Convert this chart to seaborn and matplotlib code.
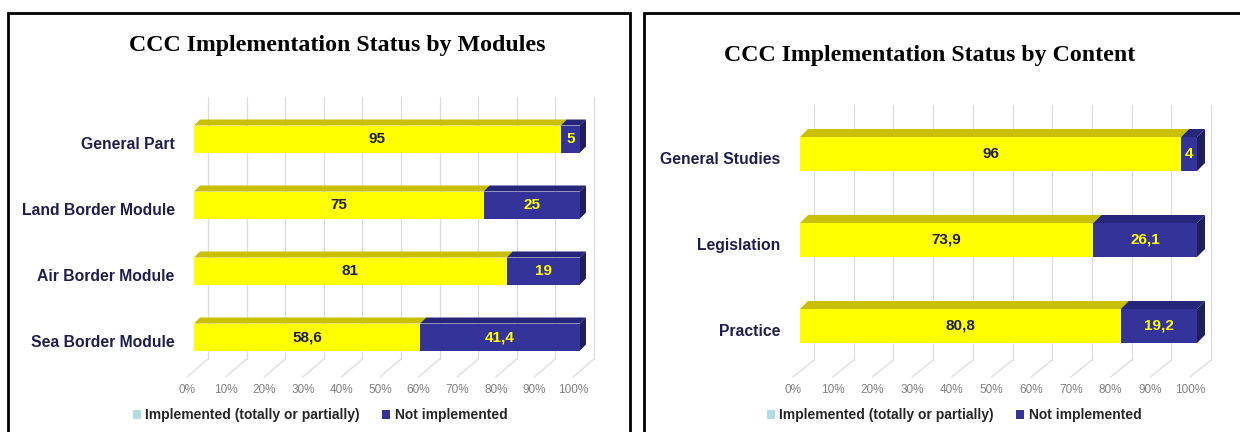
import matplotlib
matplotlib.use("Agg")
import matplotlib.pyplot as plt
import seaborn as sns
import pandas as pd
from matplotlib.patches import Polygon, Rectangle
from matplotlib.transforms import ScaledTranslation
from matplotlib import font_manager

# ---------------- data ----------------
module_names = ["General Part", "Land Border Module", "Air Border Module", "Sea Border Module"]
module_implemented = [95, 75, 81, 58.6]
module_not_implemented = [5, 25, 19, 41.4]
module_impl_labels = ["95", "75", "81", "58,6"]
module_not_labels = ["5", "25", "19", "41,4"]

content_names = ["General Studies", "Legislation", "Practice"]
content_implemented = [96, 73.9, 80.8]
content_not_implemented = [4, 26.1, 19.2]
content_impl_labels = ["96", "73,9", "80,8"]
content_not_labels = ["4", "26,1", "19,2"]

tick_values = [0, 10, 20, 30, 40, 50, 60, 70, 80, 90, 100]
tick_labels = ["0%", "10%", "20%", "30%", "40%", "50%", "60%", "70%", "80%", "90%", "100%"]
titles = ["CCC Implementation Status by Modules", "CCC Implementation Status by Content"]
legend_labels = ["Implemented (totally or partially)", "Not implemented"]

# ---------------- style ----------------
sns.set_style("white")
avail = {f.name for f in font_manager.fontManager.ttflist}
narrow = "Liberation Sans Narrow" if "Liberation Sans Narrow" in avail else "Liberation Sans"
plt.rcParams["font.family"] = [narrow, "DejaVu Sans"]

YELLOW = "#ffff00"
YELLOW_TOP = "#c8c000"
NAVY = "#333399"
NAVY_TOP = "#26267a"
NAVY_SIDE = "#1f1f5e"
LEGEND_IMPL = "#b0dde3"
LABEL_NAVY = "#1f1f4f"
GRID = "#dcdcdc"

W, H = 1240, 432
fig = plt.figure(figsize=(W / 100, H / 100), dpi=100)


def box(x0, y0, x1, y1):
    return [x0 / W, 1 - y1 / H, (x1 - x0) / W, (y1 - y0) / H]


def draw_panel(ax, names, impl, notimpl, impl_lab, not_lab, px_w, px_top, px_back_bottom,
               centers_px, bar_px, depth):
    n = len(names)
    cat_px = centers_px[1] - centers_px[0]
    top = -(centers_px[0] - px_top) / cat_px
    bottom = (377 - centers_px[0]) / cat_px
    total = [a + b for a, b in zip(impl, notimpl)]
    df = pd.DataFrame({"cat": names, "impl": impl, "total": total})
    width = bar_px / cat_px
    sns.barplot(data=df, x="total", y="cat", orient="h", color=NAVY, saturation=1,
                width=width, linewidth=0, ax=ax, zorder=3)
    sns.barplot(data=df, x="impl", y="cat", orient="h", color=YELLOW, saturation=1,
                width=width, linewidth=0, ax=ax, zorder=4)
    ax.set_xlim(0, 100)
    ax.set_ylim(bottom, top)
    pxx = px_w / 100.0
    dx = depth / pxx
    dy = depth / cat_px
    back_off = 14 / pxx
    front_off = 7 / pxx
    yb_back = (px_back_bottom - centers_px[0]) / cat_px
    for t in tick_values:
        ax.plot([t + back_off, t + back_off], [top, yb_back], color=GRID, lw=0.9,
                zorder=1, clip_on=False)
        ax.plot([t + back_off, t - front_off], [yb_back, bottom], color=GRID, lw=0.9,
                zorder=1, clip_on=False)
    for i in range(n):
        yt = i - width / 2
        yb = i + width / 2
        a, b = impl[i], total[i]
        ax.add_patch(Polygon([(0, yt), (a, yt), (a + dx, yt - dy), (dx, yt - dy)],
                             closed=True, facecolor=YELLOW_TOP, edgecolor="none",
                             zorder=5, clip_on=False))
        ax.add_patch(Polygon([(a, yt), (b, yt), (b + dx, yt - dy), (a + dx, yt - dy)],
                             closed=True, facecolor=NAVY_TOP, edgecolor="none",
                             zorder=5, clip_on=False))
        ax.add_patch(Polygon([(b, yt), (b + dx, yt - dy), (b + dx, yb - dy), (b, yb)],
                             closed=True, facecolor=NAVY_SIDE, edgecolor="none",
                             zorder=5, clip_on=False))
        ax.text(a / 2, i, impl_lab[i], ha="center", va="center", fontsize=11,
                fontweight="bold", color=LABEL_NAVY, zorder=6)
        ax.text((a + b) / 2, i, not_lab[i], ha="center", va="center", fontsize=11,
                fontweight="bold", color=YELLOW, zorder=6)
    for s in ax.spines.values():
        s.set_visible(False)
    ax.set_xlabel("")
    ax.set_ylabel("")
    ax.set_xticks(tick_values, tick_labels)
    ax.tick_params(axis="x", length=0, pad=5, labelsize=8.5, labelcolor="#808080")
    ax.tick_params(axis="y", length=0, pad=14, labelsize=11.3)
    for lab in ax.get_xticklabels():
        lab.set_transform(lab.get_transform() + ScaledTranslation(-7 / 100, 0, fig.dpi_scale_trans))
    for lab in ax.get_yticklabels():
        lab.set_fontweight("bold")
        lab.set_color(LABEL_NAVY)
        lab.set_transform(lab.get_transform() + ScaledTranslation(0, -4 / 100, fig.dpi_scale_trans))
    ax.grid(False)
    ax.set_facecolor("none")


ax1 = fig.add_axes(box(194, 97, 580, 377))
draw_panel(ax1, module_names, module_implemented, module_not_implemented,
           module_impl_labels, module_not_labels, 386, 97, 359,
           [139, 205, 271, 337], 27, 6)

ax2 = fig.add_axes(box(800, 105, 1197, 377))
draw_panel(ax2, content_names, content_implemented, content_not_implemented,
           content_impl_labels, content_not_labels, 397, 105, 360,
           [154, 240, 325], 34, 8)

# panel borders
fig.add_artist(Rectangle((8 / W, -0.05), (630 - 8) / W, 1.05 - 13 / H, transform=fig.transFigure,
                         fill=False, lw=2, edgecolor="black"))
fig.add_artist(Rectangle((644 / W, -0.05), (1260 - 644) / W, 1.05 - 13 / H, transform=fig.transFigure,
                         fill=False, lw=2, edgecolor="black"))

# titles
for title, (cx, cy) in zip(titles, [(337, 45), (930, 55)]):
    fig.text(cx / W, 1 - cy / H, title, ha="center", va="center", fontsize=17.2,
             fontweight="bold", family=["Liberation Serif", "DejaVu Serif"], color="black")

# legends
for cx in [320, 954]:
    handles = [Rectangle((0, 0), 1, 1, facecolor=LEGEND_IMPL, edgecolor="none"),
               Rectangle((0, 0), 1, 1, facecolor=NAVY, edgecolor="none")]
    fig.legend(handles, legend_labels, loc="center", bbox_to_anchor=(cx / W, 1 - 415 / H),
               ncol=2, frameon=False, handlelength=0.6, handleheight=0.6,
               handletextpad=0.3, columnspacing=1.6, borderaxespad=0,
               prop={"size": 10, "weight": "bold"})

fig.savefig("out.png", dpi=100)
